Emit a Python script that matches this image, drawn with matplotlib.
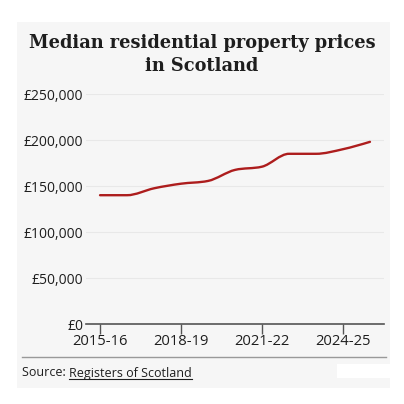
import matplotlib
matplotlib.use("Agg")
import matplotlib.pyplot as plt
from matplotlib.patches import Rectangle, PathPatch
from matplotlib.lines import Line2D
from matplotlib.path import Path

years = ["2015-16", "2016-17", "2017-18", "2018-19", "2019-20", "2020-21",
         "2021-22", "2022-23", "2023-24", "2024-25", "2025-26"]
prices = [140000, 140000, 147500, 152500, 155500, 167500,
          171000, 185000, 185000, 190000, 198000]
yticks = [0, 50000, 100000, 150000, 200000, 250000]
ytick_labels = ["£0", "£50,000", "£100,000", "£150,000", "£200,000", "£250,000"]
xtick_idx = [0, 3, 6, 9]

W = H = 404
fig = plt.figure(figsize=(4.04, 4.04), dpi=100)
fig.patch.set_facecolor("white")

def fx(px):
    return px / W

def fy(py):
    return 1 - py / H

# panel background
fig.add_artist(Rectangle((fx(17), fy(388)), fx(390) - fx(17), fy(22) - fy(388),
                         transform=fig.transFigure, facecolor="#f6f6f6",
                         edgecolor="none", zorder=0))
# blank logo area
fig.add_artist(Rectangle((fx(337), fy(378)), fx(390) - fx(337), fy(364) - fy(378),
                         transform=fig.transFigure, facecolor="white",
                         edgecolor="none", zorder=1))

sans = ["Open Sans", "DejaVu Sans"]
text_col = "#1e1e1e"

ax = fig.add_axes([fx(86), fy(324), fx(384) - fx(86), fy(94) - fy(324)])
ax.set_facecolor("none")
x = list(range(len(years)))


def monotone_path(xs, ys):
    # monotone cubic (Fritsch-Carlson) rendered as Bezier segments
    n = len(xs)
    d = [(ys[i + 1] - ys[i]) / (xs[i + 1] - xs[i]) for i in range(n - 1)]
    m = [0.0] * n
    for i in range(1, n - 1):
        if d[i - 1] * d[i] <= 0:
            m[i] = 0.0
        else:
            h0 = xs[i] - xs[i - 1]
            h1 = xs[i + 1] - xs[i]
            p = (d[i - 1] * h1 + d[i] * h0) / (h0 + h1)
            m[i] = (1 if p > 0 else -1) * min(abs(p), 2 * abs(d[i - 1]), 2 * abs(d[i]))
    m[0] = (3 * d[0] - m[1]) / 2
    m[-1] = (3 * d[-1] - m[-2]) / 2
    verts = [(xs[0], ys[0])]
    codes = [Path.MOVETO]
    for i in range(n - 1):
        h = xs[i + 1] - xs[i]
        verts += [(xs[i] + h / 3, ys[i] + m[i] * h / 3),
                  (xs[i + 1] - h / 3, ys[i + 1] - m[i + 1] * h / 3),
                  (xs[i + 1], ys[i + 1])]
        codes += [Path.CURVE4] * 3
    return Path(verts, codes)


ax.add_patch(PathPatch(monotone_path(x, prices), facecolor="none",
                       edgecolor="#ad1d1d", lw=1.7, capstyle="round",
                       joinstyle="round", zorder=3))
ax.set_xlim(-0.52, 10.52)
ax.set_ylim(0, 250000)
ax.set_yticks(yticks)
ax.set_yticklabels(ytick_labels, fontfamily=sans, fontsize=10, color=text_col)
ax.set_xticks(xtick_idx)
ax.set_xticklabels([years[i] for i in xtick_idx], fontfamily=sans,
                   fontsize=10.6, color=text_col)
ax.tick_params(axis="y", length=0, pad=2)
ax.tick_params(axis="x", length=7, width=1, color="#555555", pad=0, direction="out")
for s in ["top", "right", "left"]:
    ax.spines[s].set_visible(False)
ax.spines["bottom"].set_color("#555555")
ax.spines["bottom"].set_linewidth(1.2)
ax.grid(axis="y", color="#e8e8e8", lw=0.8)
ax.set_axisbelow(True)

fig.text(0.5, fy(43), "Median residential property prices", ha="center",
         va="center", fontsize=12.8, fontweight="bold",
         fontfamily=["DejaVu Serif"], color=text_col)
fig.text(0.5, fy(66), "in Scotland", ha="center", va="center", fontsize=12.8,
         fontweight="bold", fontfamily=["DejaVu Serif"], color=text_col)

# separator
fig.add_artist(Line2D([fx(22), fx(386)], [fy(357), fy(357)],
                      transform=fig.transFigure, color="#999999", lw=1))

t1 = fig.text(fx(22), fy(373), "Source: ", ha="left", va="center",
              fontsize=9, fontfamily=sans, color=text_col)
fig.canvas.draw()
bb = t1.get_window_extent()
x2 = bb.x1 / fig.bbox.width
t2 = fig.text(x2, fy(373), "Registers of Scotland", ha="left", va="center",
              fontsize=9, fontfamily=sans, color=text_col)
fig.canvas.draw()
bb2 = t2.get_window_extent()
fig.add_artist(Line2D([bb2.x0 / fig.bbox.width, bb2.x1 / fig.bbox.width],
                      [bb2.y0 / fig.bbox.height + 0.002] * 2,
                      transform=fig.transFigure, color=text_col, lw=0.8))

fig.savefig("out.png", dpi=100)
